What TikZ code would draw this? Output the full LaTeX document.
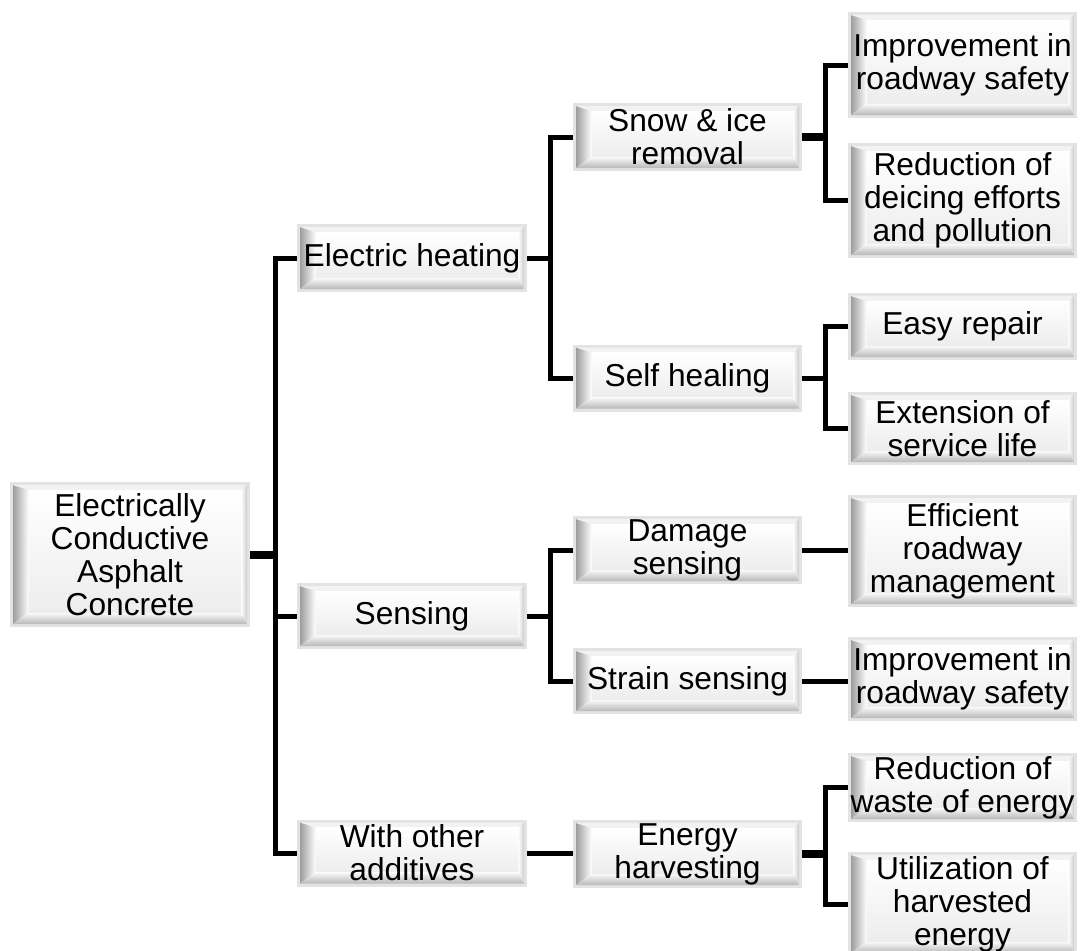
\documentclass[tikz,border=0pt]{standalone}
\usepackage{fontspec}
\setmainfont{Liberation Sans}
\begin{document}
\begin{tikzpicture}[x=1pt,y=1pt,
  boxrim/.style={fill=black!11},
  bevelbox/.style={rectangle, inner sep=0pt, align=center,
    font=\fontsize{31.7}{33}\selectfont,
    path picture={
      \fill[boxrim] (path picture bounding box.south west) rectangle (path picture bounding box.north east);
      \coordinate (bvA) at ([shift={(3,3)}]path picture bounding box.south west);
      \coordinate (bvB) at ([shift={(-3,-3)}]path picture bounding box.north east);
      % left bevel
      \shade[left color=black!38, right color=white]
        (bvA) -- (bvA|-bvB) -- ([shift={(16,-5)}]bvA|-bvB) -- ([shift={(16,12)}]bvA) -- cycle;
      % bottom bevel
      \shade[top color=white, bottom color=black!28]
        (bvA) -- ([shift={(16,12)}]bvA) -- ([shift={(-6,12)}]bvB|-bvA) -- (bvB|-bvA) -- cycle;
      % top bevel
      \fill[black!5]
        (bvA|-bvB) -- (bvB) -- ([shift={(-6,-5)}]bvB) -- ([shift={(16,-5)}]bvA|-bvB) -- cycle;
      % right bevel
      \shade[left color=white, right color=black!20]
        (bvB|-bvA) -- (bvB) -- ([shift={(-6,-5)}]bvB) -- ([shift={(-6,12)}]bvB|-bvA) -- cycle;
      % face
      \shade[top color=white, bottom color=black!7]
        ([shift={(16,12)}]bvA) rectangle ([shift={(-6,-5)}]bvB);
    }},
  conn/.style={draw=black, line width=5pt, line cap=butt, line join=miter},
  stub/.style={draw=black, line width=8pt, line cap=butt}
]
\useasboundingbox (0,0) rectangle (1085,-951);

% level 0
\node[bevelbox, minimum width=240pt, minimum height=145pt] (root) at (130,-554.5)
  {Electrically\\Conductive\\Asphalt\\Concrete};

% level 1
\node[bevelbox, minimum width=230pt, minimum height=68pt] (heat) at (412,-258) {Electric heating};
\node[bevelbox, minimum width=230pt, minimum height=66pt] (sens) at (412,-616) {Sensing};
\node[bevelbox, minimum width=230pt, minimum height=67pt] (other) at (412,-853) {With other\\additives};

% level 2
\node[bevelbox, minimum width=229pt, minimum height=68pt] (snow) at (687.5,-137) {Snow \& ice\\removal};
\node[bevelbox, minimum width=229pt, minimum height=67pt] (self) at (687.5,-378) {Self healing};
\node[bevelbox, minimum width=229pt, minimum height=68pt] (dmg) at (687.5,-550) {Damage\\sensing};
\node[bevelbox, minimum width=229pt, minimum height=66pt] (strain) at (687.5,-681) {Strain sensing};
\node[bevelbox, minimum width=229pt, minimum height=68pt] (energy) at (687.5,-854) {Energy\\harvesting};

% level 3
\node[bevelbox, minimum width=229pt, minimum height=106pt] (imp1) at (962.5,-65) {Improvement in\\roadway safety};
\node[bevelbox, minimum width=229pt, minimum height=115pt] (red1) at (962.5,-200.5) {Reduction of\\deicing efforts\\and pollution};
\node[bevelbox, minimum width=229pt, minimum height=67pt] (easy) at (962.5,-326.5) {Easy repair};
\node[bevelbox, minimum width=229pt, minimum height=73pt] (ext) at (962.5,-428.5) {Extension of\\service life};
\node[bevelbox, minimum width=229pt, minimum height=112pt] (eff) at (962.5,-551) {Efficient\\roadway\\management};
\node[bevelbox, minimum width=229pt, minimum height=84pt] (imp2) at (962.5,-679) {Improvement in\\roadway safety};
\node[bevelbox, minimum width=229pt, minimum height=69pt] (waste) at (962.5,-787.5) {Reduction of\\waste of energy};
\node[bevelbox, minimum width=229pt, minimum height=104pt] (util) at (962.5,-904) {Utilization of\\harvested\\energy};

% branching points
\coordinate (j0) at (275,-554.5);
\coordinate (j1) at (550,-258);
\coordinate (j2) at (550,-616);
\coordinate (j3) at (825,-137);
\coordinate (j4) at (825,-378);
\coordinate (j5) at (825,-854);

% root to first level
\draw[stub] (root.east) -- ([xshift=2pt]j0);
\draw[conn] (heat.west) -| (j0) |- (other.west);
\draw[conn] (sens.west) -- (sens.west -| j0);

% electric heating
\draw[conn] (heat.east) -- (j1);
\draw[conn] (snow.west) -| (j1) |- (self.west);

% snow & ice removal
\draw[stub] (snow.east) -- ([xshift=2pt]j3);
\draw[conn] (imp1.west) -| (j3) |- (red1.west);

% self healing
\draw[conn] (self.east) -- (j4);
\draw[conn] (easy.west) -| (j4) |- (ext.west);

% sensing
\draw[conn] (sens.east) -- (j2);
\draw[conn] (dmg.west) -| (j2) |- (strain.west);
\draw[conn] (dmg.east) -- (eff.west |- dmg.east);
\draw[conn] (strain.east) -- (imp2.west |- strain.east);

% other additives
\draw[conn] (other.east) -- (energy.west |- other.east);
\draw[stub] (energy.east) -- ([xshift=2pt]j5);
\draw[conn] (waste.west) -| (j5) |- (util.west);
\end{tikzpicture}
\end{document}
